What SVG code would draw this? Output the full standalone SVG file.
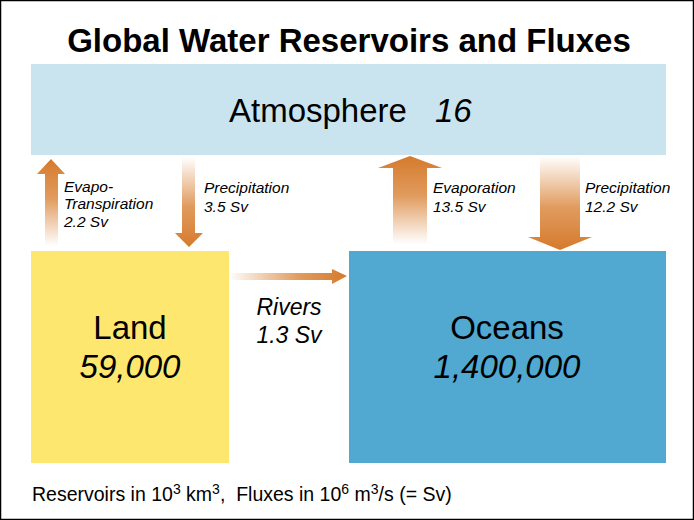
<svg xmlns="http://www.w3.org/2000/svg" width="694" height="520" viewBox="0 0 694 520">
<defs>
<style>
.t{font-family:"Liberation Sans",Arial,sans-serif;fill:#000}
.title{font-size:33px;font-weight:bold}
.big{font-size:33px}
.lbl{font-size:15.5px;font-style:italic}
.riv{font-size:23px;font-style:italic}
.foot{font-size:19.5px}
.arr{stroke:none}
</style>
<linearGradient id="gUp" x1="0" y1="1" x2="0" y2="0">
<stop offset="0" stop-color="#d98235" stop-opacity="0"/>
<stop offset="0.55" stop-color="#d98235" stop-opacity="0.8"/>
<stop offset="1" stop-color="#d57a2c"/>
</linearGradient>
<linearGradient id="gDown" x1="0" y1="0" x2="0" y2="1">
<stop offset="0" stop-color="#d98235" stop-opacity="0"/>
<stop offset="0.55" stop-color="#d98235" stop-opacity="0.8"/>
<stop offset="1" stop-color="#d57a2c"/>
</linearGradient>
<linearGradient id="gRight" x1="0" y1="0" x2="1" y2="0">
<stop offset="0" stop-color="#d98235" stop-opacity="0"/>
<stop offset="0.6" stop-color="#d98235" stop-opacity="0.8"/>
<stop offset="1" stop-color="#d57a2c"/>
</linearGradient>
</defs>
<rect x="0.5" y="0.5" width="693" height="519" fill="#fff" stroke="#000" stroke-width="1.5"/>
<text class="t title" x="349" y="52" text-anchor="middle">Global Water Reservoirs and Fluxes</text>

<g id="atmosphere">
<rect x="31" y="64" width="635" height="91" fill="#c9e4ef"/>
<text class="t big" x="229" y="122">Atmosphere<tspan x="435" font-style="italic">16</tspan></text>
</g>

<g id="land">
<rect x="31" y="251" width="198" height="212" fill="#fde76f"/>
<text class="t big" x="130" y="339" text-anchor="middle">Land</text>
<text class="t big" x="130" y="378" text-anchor="middle" font-style="italic">59,000</text>
</g>

<g id="oceans">
<rect x="349" y="251" width="317" height="212" fill="#51a8d0"/>
<text class="t big" x="507" y="339" text-anchor="middle">Oceans</text>
<text class="t big" x="507" y="378" text-anchor="middle" font-style="italic">1,400,000</text>
</g>

<g id="connectors">
<g id="evapotranspiration">
<path class="arr" fill="url(#gUp)" d="M45 246 L45 174 L37 174 L51 159 L65 174 L58 174 L58 246 Z"/>
<text class="t lbl" x="64" y="192">Evapo-</text>
<text class="t lbl" x="64" y="209">Transpiration</text>
<text class="t lbl" x="64" y="227">2.2 Sv</text>
</g>
<g id="precip-land">
<path class="arr" fill="url(#gDown)" d="M182 157 L195 157 L195 233 L203 233 L189 247 L175 233 L182 233 Z"/>
<text class="t lbl" x="204" y="193">Precipitation</text>
<text class="t lbl" x="204" y="212">3.5 Sv</text>
</g>
<g id="evaporation">
<path class="arr" fill="url(#gUp)" d="M393 244 L393 168 L378 168 L410 156 L442 168 L427 168 L427 244 Z"/>
<text class="t lbl" x="433" y="193">Evaporation</text>
<text class="t lbl" x="433" y="212">13.5 Sv</text>
</g>
<g id="precip-ocean">
<path class="arr" fill="url(#gDown)" d="M540 156 L580 156 L580 237 L592 237 L560 250 L528 237 L540 237 Z"/>
<text class="t lbl" x="585" y="193">Precipitation</text>
<text class="t lbl" x="585" y="212">12.2 Sv</text>
</g>
<g id="rivers">
<path class="arr" fill="url(#gRight)" d="M228 273 L332 273 L332 269 L347 276 L332 284 L332 280 L228 280 Z"/>
<text class="t riv" x="289" y="315" text-anchor="middle">Rivers</text>
<text class="t riv" x="289" y="343" text-anchor="middle">1.3 Sv</text>
</g>
</g>

<text class="t foot" x="32" y="501" xml:space="preserve">Reservoirs in 10<tspan dy="-7" font-size="14">3</tspan><tspan dy="7"> km</tspan><tspan dy="-7" font-size="14">3</tspan><tspan dy="7">,  Fluxes in 10</tspan><tspan dy="-7" font-size="14">6</tspan><tspan dy="7"> m</tspan><tspan dy="-7" font-size="14">3</tspan><tspan dy="7">/s (= Sv)</tspan></text>
</svg>
